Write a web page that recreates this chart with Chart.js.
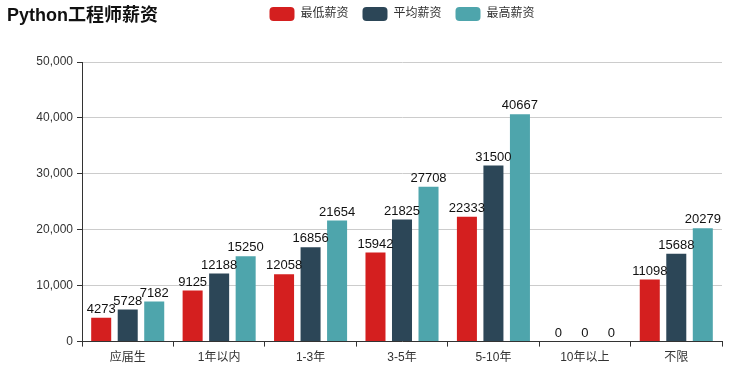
<!DOCTYPE html>
<html>
<head>
<meta charset="utf-8">
<script src="https://cdn.jsdelivr.net/npm/chart.js@4/dist/chart.umd.min.js"></script>
<style>
  html, body { margin: 0; padding: 0; background: #fff; }
  #wrap { width: 737px; height: 375px; }
</style>
</head>
<body>
<div id="wrap"><canvas id="salaryChart"></canvas></div>
<script>
const categories = ['应届生', '1年以内', '1-3年', '3-5年', '5-10年', '10年以上', '不限'];
const minSalary = [4273, 9125, 12058, 15942, 22333, 0, 11098];
const avgSalary = [5728, 12188, 16856, 21825, 31500, 0, 15688];
const maxSalary = [7182, 15250, 21654, 27708, 40667, 0, 20279];
const seriesNames = ['最低薪资', '平均薪资', '最高薪资'];
const yTicks = [0, 10000, 20000, 30000, 40000, 50000];

const FONT = "'Liberation Sans', 'Noto Sans CJK SC', sans-serif";
Chart.defaults.font.family = FONT;

// title drawn at top left, legend sits on the same line
const titlePlugin = {
  id: 'titleText',
  afterDraw(chart) {
    const ctx = chart.ctx;
    ctx.save();
    ctx.font = "bold 18px 'Liberation Sans', 'Noto Sans CJK SC', sans-serif";
    ctx.fillStyle = '#111';
    ctx.textBaseline = 'middle';
    ctx.fillText('Python工程师薪资', 7, 16);
    ctx.restore();
  }
};

// leave more room under the legend
const legendGap = {
  id: 'legendGap',
  beforeInit(chart) {
    const fit = chart.legend.fit;
    chart.legend.fit = function () {
      fit.bind(chart.legend)();
      this.height += 31;
    };
  }
};

// numbers on top of every bar
const valueLabels = {
  id: 'valueLabels',
  afterDatasetsDraw(chart) {
    const ctx = chart.ctx;
    ctx.save();
    ctx.font = "13px " + FONT;
    ctx.fillStyle = '#111';
    ctx.textAlign = 'center';
    ctx.textBaseline = 'bottom';
    chart.data.datasets.forEach((ds, i) => {
      chart.getDatasetMeta(i).data.forEach((bar, j) => {
        ctx.fillText(String(ds.data[j]), bar.x, bar.y - 2);
      });
    });
    ctx.restore();
  }
};

const ctx = document.getElementById('salaryChart').getContext('2d');
new Chart(ctx, {
  type: 'bar',
  data: {
    labels: categories,
    datasets: [
      { label: seriesNames[0], data: minSalary, backgroundColor: '#d41f1f' },
      { label: seriesNames[1], data: avgSalary, backgroundColor: '#2c4657' },
      { label: seriesNames[2], data: maxSalary, backgroundColor: '#4ea5ac' }
    ]
  },
  options: {
    responsive: true,
    maintainAspectRatio: false,
    animation: false,
    layout: { padding: { left: 10, right: 15, top: -7, bottom: 6 } },
    datasets: {
      bar: { categoryPercentage: 0.87, barPercentage: 0.755 }
    },
    scales: {
      x: {
        grid: { offset: true, drawOnChartArea: false, tickLength: 5, tickColor: '#333' },
        border: { color: '#333' },
        ticks: { color: '#333', font: { size: 12 }, padding: 4 }
      },
      y: {
        min: 0,
        max: 50000,
        afterBuildTicks(axis) { axis.ticks = yTicks.map(v => ({ value: v })); },
        afterFit(axis) { axis.width = 72; },
        grid: { color: '#ccc', tickLength: 5, tickColor: '#333' },
        border: { color: '#333' },
        ticks: {
          color: '#333',
          font: { size: 12 },
          padding: 4,
          callback: v => v.toLocaleString('en-US')
        }
      }
    },
    plugins: {
      legend: {
        position: 'top',
        fullSize: false,
        labels: {
          boxWidth: 25,
          boxHeight: 14,
          useBorderRadius: true,
          borderRadius: 4,
          color: '#333',
          font: { size: 12 },
          padding: 14
        }
      },
      tooltip: { enabled: false }
    }
  },
  plugins: [titlePlugin, legendGap, valueLabels]
});
</script>
</body>
</html>
